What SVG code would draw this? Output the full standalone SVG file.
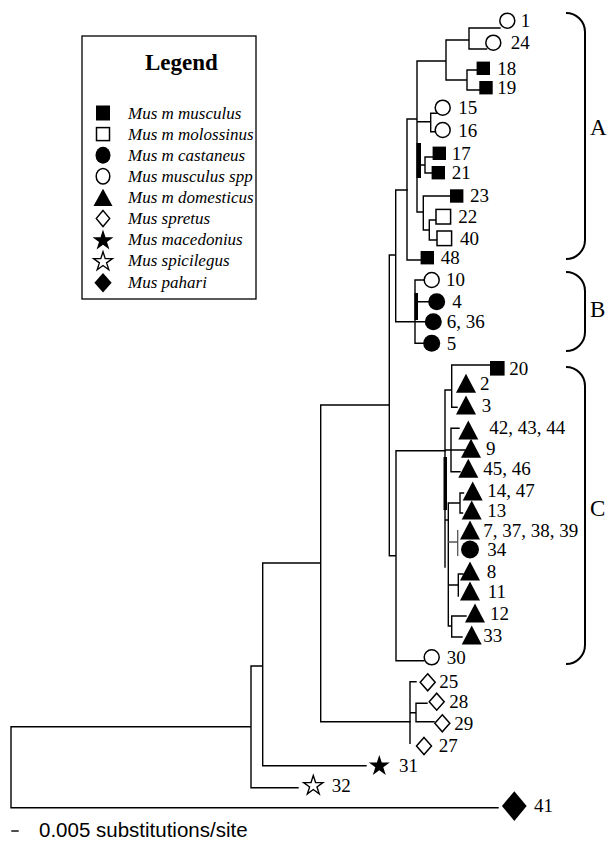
<svg xmlns="http://www.w3.org/2000/svg" xmlns:xlink="http://www.w3.org/1999/xlink" width="609" height="842" viewBox="0 0 609 842">
<style>
.ln{fill:none;stroke:#000;stroke-width:1.4;stroke-linecap:square}
.gr{fill:none;stroke:#555;stroke-width:1.3}
.br{fill:none;stroke:#000;stroke-width:2}
.f{fill:#000;stroke:none}
.o{fill:#fff;stroke:#000;stroke-width:1.5}
.lb{font-family:"Liberation Serif","Times New Roman",serif;font-size:19px;fill:#000}
.cl{font-family:"Liberation Serif","Times New Roman",serif;font-size:23px;fill:#000}
.lg{font-family:"Liberation Serif","Times New Roman",serif;font-size:17px;font-style:italic;fill:#000}
.tt{font-family:"Liberation Serif","Times New Roman",serif;font-size:23px;font-weight:bold;fill:#000}
.sc{font-family:"Liberation Sans",Arial,sans-serif;font-size:20.5px;fill:#000}
</style>
<defs>
<path id="tri" d="M-10,9.5 L0,-9.5 L10,9.5 Z"/>
<path id="dia" d="M0,-8.5 L7.5,0 L0,8.5 L-7.5,0 Z"/>
<path id="star" d="M0,-11 L2.47,-3.4 L10.46,-3.4 L3.99,1.3 L6.47,8.9 L0,4.2 L-6.47,8.9 L-3.99,1.3 L-10.46,-3.4 L-2.47,-3.4 Z"/>
</defs>

<g id="legend">
<rect x="82" y="36" width="174" height="263" fill="#fff" stroke="#000" stroke-width="1.3"/>
<text class="tt" x="145" y="70">Legend</text>
<rect class="f" x="96" y="105.5" width="14" height="15"/>
<text class="lg" x="128" y="118.5">Mus m musculus</text>
<rect class="o" x="96.5" y="127.6" width="13" height="13"/>
<text class="lg" x="128" y="139.6">Mus m molossinus</text>
<ellipse class="f" cx="103" cy="155.2" rx="7.5" ry="8.5"/>
<text class="lg" x="128" y="160.7">Mus m castaneus</text>
<ellipse class="o" cx="103" cy="176.3" rx="6.8" ry="7.8"/>
<text class="lg" x="128" y="181.8">Mus musculus spp</text>
<use href="#tri" class="f" transform="translate(103,197.4) scale(0.95,0.9)"/>
<text class="lg" x="128" y="202.9">Mus m domesticus</text>
<use href="#dia" class="o" transform="translate(103,218.5) scale(0.9,0.95)"/>
<text class="lg" x="128" y="224">Mus spretus</text>
<use href="#star" class="f" transform="translate(103,240.6)"/>
<text class="lg" x="128" y="245.1">Mus macedonius</text>
<use href="#star" class="o" transform="translate(103,261.7) scale(0.9)"/>
<text class="lg" x="128" y="266.2">Mus spicilegus</text>
<use href="#dia" class="f" transform="translate(103,282.8) scale(1.15,1.15)"/>
<text class="lg" x="128" y="288.3">Mus pahari</text>
</g>

<g id="connectors">
<path class="ln" d="M11,726.7 V807.7 M11,726.7 H251 M11,807.7 H498 M251,666 V787.7 M251,787.7 H298 M251,666 H262.7 M262.7,563 V765.7 M262.7,765.7 H366 M262.7,563 H320.7 M320.7,405 V721.7 M320.7,721.7 H410 M320.7,405 H389.3 M389.3,255 V555.7 M389.3,255 H395.7 M389.3,555.7 H396 M395.7,190 V321.7 M395.7,190 H407 M395.7,321.7 H425 M396,450.7 V660.7 M396,450.7 H445 M396,660.7 H424"/>
<path class="ln" d="M410,681.7 V743.3 M410,681.7 H416 M410,712.7 H416 M416,703.3 V721.7 M416,703.3 H427 M416,721.7 H434"/>
<path class="ln" d="M407,119 V260 M407,119 H417 M407,260 H420.5 M417,61 V212 M417,61 H446 M446,40 V80 M446,40 H469 M469,28 V49 M469,28 H500 M469,49 H486.5 M446,80 H467 M467,70 V90 M467,70 H476.5 M467,90 H479.5 M417,121.7 H430.7 M430.7,113.3 V131.7 M430.7,113.3 H437 M430.7,131.7 H436 M421,165 H425 M425,157 V173 M425,157 H432.5 M425,173 H431.5 M417,212 H423.3 M423.3,196 V230 M423.3,196 H450 M423.3,230 H429.3 M429.3,220 V240 M429.3,220 H436 M429.3,240 H437"/>
<rect class="f" x="416.5" y="143" width="4.5" height="35"/>
<path class="ln" d="M415,280 V343.3 M415,280 H424.2 M415,301.7 H428.2 M415,343.3 H423.2"/>
<rect class="f" x="414.5" y="293" width="3.5" height="27"/>
<path class="ln" d="M445,390 V567 M445,390 H451.7 M451.7,365 V407.3 M451.7,365 H489.5 M451.7,407.3 H457 M445,450 H465 M451,428.3 V471.7 M451,428.3 H459 M451,471.7 H460 M445,520 H448.3 M448.3,503 V626 M448.3,503 H460 M460,493 V513 M460,493 H463.5 M460,513 H462.5 M448.3,585 H458.3 M458.3,574 V596 M458.3,574 H463 M448.3,626 H451.7 M451.7,616 V637 M451.7,616 H466 M451.7,637 H462"/>
<rect class="f" x="443.5" y="457" width="3.5" height="53"/>
<path class="gr" d="M448.3,542 H457.7 M457.7,530 V556"/>
<path class="ln" d="M12,831 H18"/>
</g>

<g id="leaf-1"><circle class="o" cx="507.3" cy="20.7" r="7.5"/><text class="lb" x="520.7" y="27">1</text></g>
<g id="leaf-24"><circle class="o" cx="493.3" cy="42.7" r="7.5"/><text class="lb" x="510.7" y="48.5">24</text></g>
<g id="leaf-18"><rect class="f" x="476.6" y="61.6" width="13.4" height="13.4"/><text class="lb" x="497.3" y="74.5">18</text></g>
<g id="leaf-19"><rect class="f" x="479.3" y="81" width="13.4" height="13.4"/><text class="lb" x="497.3" y="94">19</text></g>
<g id="leaf-15"><circle class="o" cx="442.7" cy="107.7" r="7.5"/><text class="lb" x="458.3" y="114">15</text></g>
<g id="leaf-16"><circle class="o" cx="442.7" cy="130" r="7.5"/><text class="lb" x="458.3" y="136.5">16</text></g>
<g id="leaf-17"><rect class="f" x="432.6" y="146.6" width="13.4" height="13.4"/><text class="lb" x="451.7" y="159.5">17</text></g>
<g id="leaf-21"><rect class="f" x="431.6" y="166" width="13.4" height="13.4"/><text class="lb" x="451.7" y="179">21</text></g>
<g id="leaf-23"><rect class="f" x="450" y="189.3" width="13.4" height="13.4"/><text class="lb" x="470" y="202">23</text></g>
<g id="leaf-22"><rect class="o" x="436" y="209.4" width="14.6" height="14.6"/><text class="lb" x="458.3" y="223">22</text></g>
<g id="leaf-40"><rect class="o" x="437" y="231" width="14.6" height="14.6"/><text class="lb" x="460" y="244.5">40</text></g>
<g id="leaf-48"><rect class="f" x="420.6" y="251" width="13.4" height="13.4"/><text class="lb" x="440.7" y="264">48</text></g>
<g id="leaf-10"><circle class="o" cx="431.7" cy="280" r="7.5"/><text class="lb" x="446" y="286">10</text></g>
<g id="leaf-4"><circle class="f" cx="436.7" cy="301.7" r="8.5"/><text class="lb" x="452.3" y="308">4</text></g>
<g id="leaf-6-36"><circle class="f" cx="433.3" cy="321.7" r="8.5"/><text class="lb" x="446.7" y="328">6, 36</text></g>
<g id="leaf-5"><circle class="f" cx="431.7" cy="343.3" r="8.5"/><text class="lb" x="446.7" y="349.5">5</text></g>
<g id="leaf-20"><rect class="f" x="490" y="361" width="14.6" height="14.6"/><text class="lb" x="509.3" y="374.5">20</text></g>
<g id="leaf-2"><use href="#tri" class="f" transform="translate(466,383.3)"/><text class="lb" x="480" y="390">2</text></g>
<g id="leaf-3"><use href="#tri" class="f" transform="translate(466,405)"/><text class="lb" x="481.7" y="411.5">3</text></g>
<g id="leaf-42-43-44"><use href="#tri" class="f" transform="translate(468.3,430)"/><text class="lb" x="489.3" y="434">42, 43, 44</text></g>
<g id="leaf-9"><use href="#tri" class="f" transform="translate(471,448.3)"/><text class="lb" x="486" y="455">9</text></g>
<g id="leaf-45-46"><use href="#tri" class="f" transform="translate(468.3,468.3)"/><text class="lb" x="483.3" y="474.5">45, 46</text></g>
<g id="leaf-14-47"><use href="#tri" class="f" transform="translate(472.7,491)"/><text class="lb" x="487.3" y="497">14, 47</text></g>
<g id="leaf-13"><use href="#tri" class="f" transform="translate(471.7,510)"/><text class="lb" x="487.3" y="516.5">13</text></g>
<g id="leaf-7-37-38-39"><use href="#tri" class="f" transform="translate(470,530)"/><text class="lb" x="483.3" y="536.5">7, 37, 38, 39</text></g>
<g id="leaf-34"><circle class="f" cx="470" cy="549.5" r="9"/><text class="lb" x="487.3" y="556">34</text></g>
<g id="leaf-8"><use href="#tri" class="f" transform="translate(470,571)"/><text class="lb" x="486.7" y="577.5">8</text></g>
<g id="leaf-11"><use href="#tri" class="f" transform="translate(470,591)"/><text class="lb" x="487.7" y="597.5">11</text></g>
<g id="leaf-12"><use href="#tri" class="f" transform="translate(475,613)"/><text class="lb" x="490" y="619.5">12</text></g>
<g id="leaf-33"><use href="#tri" class="f" transform="translate(471.7,635)"/><text class="lb" x="483.3" y="641.5">33</text></g>
<g id="leaf-30"><circle class="o" cx="431.7" cy="657.3" r="7.5"/><text class="lb" x="446.7" y="663.5">30</text></g>
<g id="leaf-25"><use href="#dia" class="o" transform="translate(427.7,682.3)"/><text class="lb" x="439.3" y="688">25</text></g>
<g id="leaf-28"><use href="#dia" class="o" transform="translate(436.7,701.7)"/><text class="lb" x="449.3" y="708">28</text></g>
<g id="leaf-29"><use href="#dia" class="o" transform="translate(442.3,723.3)"/><text class="lb" x="454.3" y="729.5">29</text></g>
<g id="leaf-27"><use href="#dia" class="o" transform="translate(424,746)"/><text class="lb" x="438.7" y="751.5">27</text></g>
<g id="leaf-31"><use href="#star" class="f" transform="translate(379.3,766)"/><text class="lb" x="399" y="771.5">31</text></g>
<g id="leaf-32"><use href="#star" class="o" transform="translate(313.3,785.7) scale(0.92)"/><text class="lb" x="331.7" y="792">32</text></g>
<g id="leaf-41"><use href="#dia" class="f" transform="translate(514.3,806) scale(1.65,1.75)"/><text class="lb" x="534" y="812">41</text></g>

<g id="clade-A"><path class="br" d="M566,13 A19,19 0 0 1 585,32 V240 A19,19 0 0 1 566,259"/><text class="cl" x="590" y="135">A</text></g>
<g id="clade-B"><path class="br" d="M566,272 A19,19 0 0 1 585,291 V332 A19,19 0 0 1 566,351"/><text class="cl" x="590" y="317">B</text></g>
<g id="clade-C"><path class="br" d="M566,367 A19,19 0 0 1 585,386 V645 A19,19 0 0 1 566,664"/><text class="cl" x="590" y="516">C</text></g>

<g id="scale"><text class="sc" x="39" y="837">0.005 substitutions/site</text></g>
</svg>
